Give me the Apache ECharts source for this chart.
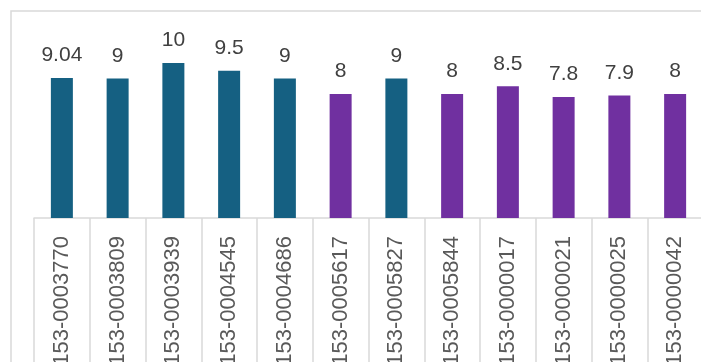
<!DOCTYPE html>
<html>
<head>
<meta charset="utf-8">
<title>Scores by ID</title>
<script src="https://cdn.jsdelivr.net/npm/echarts@6/dist/echarts.min.js"></script>
<style>
  html, body { margin: 0; padding: 0; background: #ffffff; }
  #chart { width: 701px; height: 362px; }
</style>
</head>
<body>
<div id="chart"></div>
<script>
// Item IDs along the category axis
const categories = [
  '153-0003770', '153-0003809', '153-0003939', '153-0004545',
  '153-0004686', '153-0005617', '153-0005827', '153-0005844',
  '153-0000017', '153-0000021', '153-0000025', '153-0000042'
];
// Score for each ID
const values = [9.04, 9, 10, 9.5, 9, 8, 9, 8, 8.5, 7.8, 7.9, 8];
// Group of each ID: 'A' drawn teal, 'B' drawn purple
const groups = ['A', 'A', 'A', 'A', 'A', 'B', 'A', 'B', 'B', 'B', 'B', 'B'];

const groupColors = { A: '#156082', B: '#7030A0' };

const chart = echarts.init(document.getElementById('chart'), null, { renderer: 'canvas' });

chart.setOption({
  animation: false,
  backgroundColor: '#ffffff',
  graphic: [{
    type: 'rect',
    shape: { x: 11, y: 11, width: 900, height: 600 },
    style: { fill: 'none', stroke: '#d9d9d9', lineWidth: 1.5 },
    silent: true,
    z: -1
  }],
  grid: {
    left: 34, top: 32, width: 669, height: 186,
    containLabel: false,
    outerBoundsMode: 'none'
  },
  xAxis: {
    type: 'category',
    data: categories,
    axisLine: { show: true, lineStyle: { color: '#d9d9d9', width: 1.5 } },
    axisTick: {
      show: true,
      alignWithLabel: false,
      length: 160,
      lineStyle: { color: '#d9d9d9', width: 1.5 }
    },
    axisLabel: {
      rotate: 90,
      margin: 18,
      interval: 0,
      hideOverlap: false,
      color: '#595959',
      fontSize: 22,
      fontFamily: 'Liberation Sans, Arial, sans-serif'
    }
  },
  yAxis: {
    type: 'value',
    min: 0,
    max: 12,
    show: false,
    splitLine: { show: false }
  },
  series: [{
    type: 'bar',
    barWidth: 22,
    data: values.map((v, i) => ({
      value: v,
      itemStyle: { color: groupColors[groups[i]] }
    })),
    label: {
      show: true,
      position: 'top',
      distance: 12,
      color: '#404040',
      fontSize: 21,
      fontFamily: 'Liberation Sans, Arial, sans-serif'
    }
  }]
});
</script>
</body>
</html>
